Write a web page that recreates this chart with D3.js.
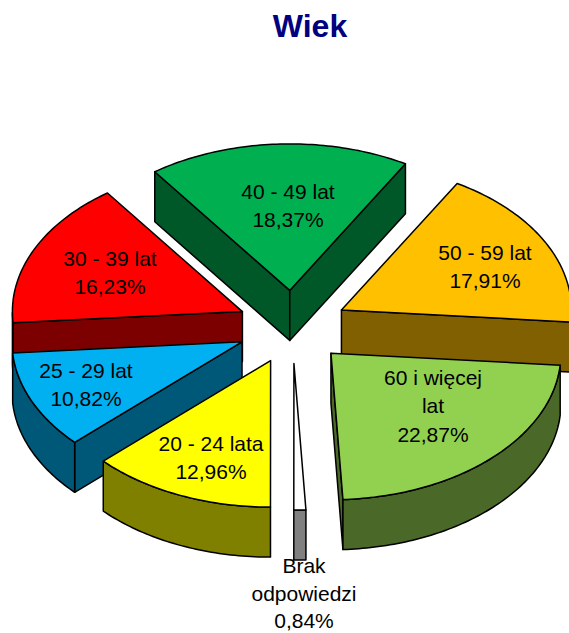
<!DOCTYPE html>
<html>
<head>
<meta charset="utf-8">
<script src="https://cdn.jsdelivr.net/npm/d3@7"></script>
<style>
html,body{margin:0;padding:0;background:#fff;overflow:hidden}
svg{display:block}
text{font-family:"Liberation Sans",Arial,sans-serif}
</style>
</head>
<body>
<div id="chart"></div>
<script>
// Data, clockwise from the first slice
const titleText = "Wiek";
const categories = [["50 - 59 lat"],["60 i więcej","lat"],["Brak","odpowiedzi"],["20 - 24 lata"],["25 - 29 lat"],["30 - 39 lat"],["40 - 49 lat"]];
const percents = [17.91,22.87,0.84,12.96,10.82,16.23,18.37];
const percentLabels = ["17,91%","22,87%","0,84%","12,96%","10,82%","16,23%","18,37%"];
const topColors = ["#FFC000","#92D050","#FFFFFF","#FFFF00","#00B0F0","#FF0000","#00B050"];
const sideColors = ["#806000","#4A6828","#808080","#808000","#005878","#7C0000","#005828"];

// Layout
const W = 569, H = 633;
const cx = 292.5, cy = 327, rx = 230, ry = 146.5, depth = 50, explodeX = 0.24, explodeY = 0.25;
const startDeg = 30.2;
const drawOrder = [6,0,5,4,1,3,2];
const labelX = [485,433,304,211,86,110,288];
const labelY = [260,385,573,451,378,266,199];
const lineGaps = [28.3,28.3,27.5,28.3,28.3,28.3,28.3];
const fontSize = 21;

const svg = d3.select("#chart").append("svg").attr("width",W).attr("height",H);
svg.append("text").attr("x",310).attr("y",37).attr("text-anchor","middle")
  .attr("font-size",32).attr("font-weight","bold").attr("fill","#000080").text(titleText);

const start = startDeg*Math.PI/180;
const pie = d3.pie().sort(null).startAngle(start).endAngle(start+2*Math.PI);
const arcs = pie(percents);
const line = d3.line();

function geom(a){
  const mid=(a.startAngle+a.endAngle)/2;
  const ax=cx+explodeX*rx*Math.sin(mid), ay=cy-explodeY*ry*Math.cos(mid);
  const pt=t=>[ax+rx*Math.sin(t), ay-ry*Math.cos(t)];
  const n=Math.max(2,Math.ceil((a.endAngle-a.startAngle)*180/Math.PI));
  const ts=d3.range(n+1).map(i=>a.startAngle+(a.endAngle-a.startAngle)*i/n);
  return {apex:[ax,ay],pt,ts};
}
const down=p=>[p[0],p[1]+depth];
const quad=(pts)=>line(pts.concat(pts.slice().reverse().map(down)))+"Z";

const g=svg.append("g").attr("stroke","#000").attr("stroke-width",1.5).attr("stroke-linejoin","round");
drawOrder.forEach(i=>{
  const a=arcs[i], s=geom(a), S=s.pt(a.startAngle), E=s.pt(a.endAngle);
  // cut faces, only those turned toward the viewer
  if(S[0]<s.apex[0]-0.5) g.append("path").attr("d",quad([s.apex,S])).attr("fill",sideColors[i]);
  if(E[0]>s.apex[0]+0.5) g.append("path").attr("d",quad([E,s.apex])).attr("fill",sideColors[i]);
  // outer rim: the part of the arc running along the lower half of the ellipse
  const rimTs=s.ts.filter(t=>{const m=((t%(2*Math.PI))+2*Math.PI)%(2*Math.PI);return m>=Math.PI/2&&m<=1.5*Math.PI;});
  if(rimTs.length>1) g.append("path").attr("d",quad(rimTs.map(s.pt))).attr("fill",sideColors[i]);
  // top face
  g.append("path").attr("d",line([s.apex].concat(s.ts.map(s.pt)))+"Z").attr("fill",topColors[i]);
});

categories.forEach((lines,i)=>{
  const t=svg.append("text").attr("text-anchor","middle").attr("font-size",fontSize).attr("fill","#000");
  lines.concat([percentLabels[i]]).forEach((l,k)=>{
    t.append("tspan").attr("x",labelX[i]).attr("y",labelY[i]+k*lineGaps[i]).text(l);
  });
});
</script>
</body>
</html>
